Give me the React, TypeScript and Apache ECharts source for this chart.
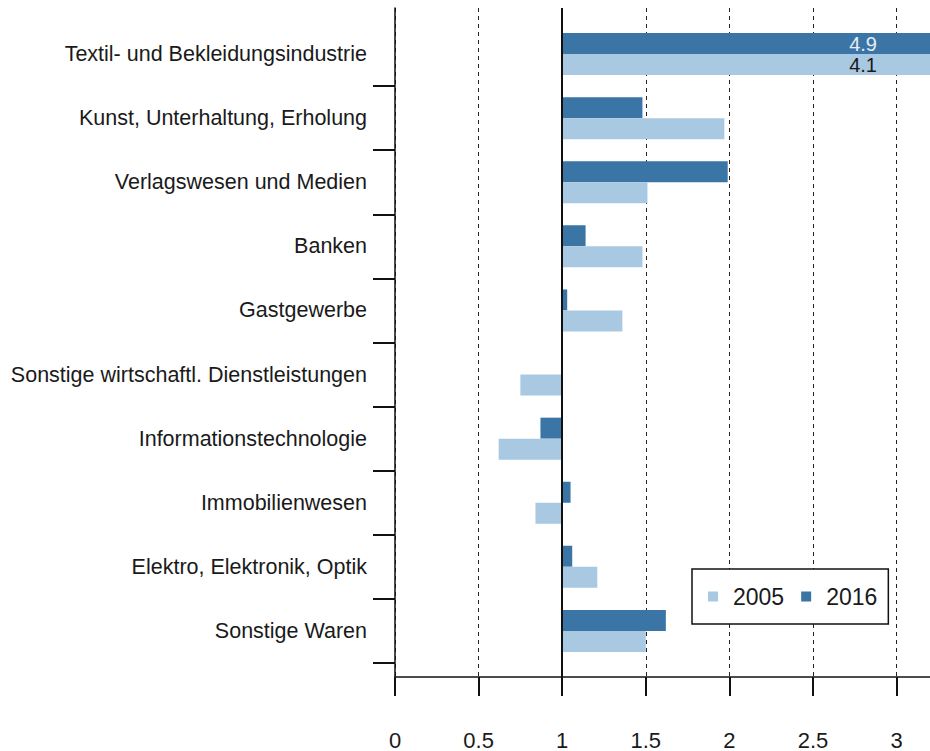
import React, { useEffect, useRef } from "react";
import * as echarts from "echarts";

const categories = [
  "Textil- und Bekleidungsindustrie",
  "Kunst, Unterhaltung, Erholung",
  "Verlagswesen und Medien",
  "Banken",
  "Gastgewerbe",
  "Sonstige wirtschaftl. Dienstleistungen",
  "Informationstechnologie",
  "Immobilienwesen",
  "Elektro, Elektronik, Optik",
  "Sonstige Waren",
];
const values2016 = [4.9, 1.48, 1.99, 1.14, 1.03, 1.0, 0.87, 1.05, 1.06, 1.62];
const values2005 = [4.1, 1.97, 1.51, 1.48, 1.36, 0.75, 0.62, 0.84, 1.21, 1.5];
const xTicks = [0, 0.5, 1, 1.5, 2, 2.5, 3];
const xMin = 0;
const xMax = 3.2;
const baseline = 1;
const labelled = ["Textil- und Bekleidungsindustrie"];

const FONT = "'Liberation Sans', Arial, sans-serif";
const DARK = "#3a75a6";
const LIGHT = "#a9c8e2";

export default function App() {
  const ref = useRef<HTMLDivElement>(null);
  useEffect(() => {
    if (!ref.current) return;
    const chart = echarts.init(ref.current, null, { renderer: "svg" });
    const shift = (v: number) => +(v - baseline).toFixed(6);
    const tickVals = xTicks.map(shift);
    const fmt = (v: number) => String(Math.round((v + baseline) * 10) / 10);

    const barLabel = (raw: number[], color: string) => ({
      show: true,
      position: "insideRight",
      distance: 53,
      color,
      fontFamily: FONT,
      fontSize: 20,
      lineHeight: 18,
      formatter: (p: any) => (labelled.includes(p.name) ? String(raw[p.dataIndex]) : ""),
    });

    chart.setOption({
      animation: false,
      textStyle: { fontFamily: FONT },
      grid: [
        { left: 395, right: 0, top: 22, height: 641, containLabel: false },
        { left: 395, right: 0, top: 8, height: 670, containLabel: false },
      ],
      xAxis: [
        {
          gridIndex: 0,
          type: "value",
          min: shift(xMin),
          max: shift(xMax),
          interval: 0.5,
          show: false,
        },
        {
          gridIndex: 1,
          type: "value",
          min: shift(xMin),
          max: shift(xMax),
          interval: 0.5,
          position: "bottom",
          axisLine: { show: true, onZero: false, lineStyle: { color: "#111", width: 1.5 } },
          axisTick: {
            show: true,
            length: 19,
            customValues: tickVals,
            lineStyle: { color: "#111", width: 2 },
          },
          axisLabel: {
            show: true,
            customValues: tickVals,
            formatter: fmt,
            margin: 52,
            color: "#1a1a1a",
            fontFamily: FONT,
            fontSize: 22,
          },
          splitLine: {
            show: true,
            lineStyle: { color: "#222", type: [4, 4], width: 1 },
          },
        },
      ],
      yAxis: [
        {
          gridIndex: 0,
          type: "category",
          data: categories,
          inverse: true,
          position: "left",
          axisLine: { show: false, onZero: false },
          axisTick: {
            show: true,
            length: 22,
            interval: (i: number) => i !== 0,
            lineStyle: { color: "#111", width: 2 },
          },
          axisLabel: {
            margin: 28,
            color: "#1a1a1a",
            fontFamily: FONT,
            fontSize: 21.5,
          },
          splitLine: { show: false },
        },
        {
          gridIndex: 1,
          type: "value",
          min: 0,
          max: 1,
          position: "left",
          axisLine: { show: true, onZero: false, lineStyle: { color: "#111", width: 1.5 } },
          axisTick: { show: false },
          axisLabel: { show: false },
          splitLine: { show: false },
        },
      ],
      legend: {
        left: 692,
        top: 569,
        orient: "horizontal",
        data: ["2005", "2016"],
        icon: "rect",
        itemWidth: 10,
        itemHeight: 10,
        itemGap: 17,
        padding: [16, 11, 16, 16],
        borderColor: "#111",
        borderWidth: 1.5,
        backgroundColor: "#fff",
        textStyle: { fontFamily: FONT, fontSize: 23, color: "#1a1a1a", padding: [0, 0, 0, 10] },
      },
      series: [
        {
          name: "2016",
          type: "bar",
          xAxisIndex: 0,
          yAxisIndex: 0,
          data: values2016.map(shift),
          barWidth: 21,
          barGap: "0%",
          itemStyle: { color: DARK },
          label: barLabel(values2016, "#e3edf6"),
          z: 3,
        },
        {
          name: "2005",
          type: "bar",
          xAxisIndex: 0,
          yAxisIndex: 0,
          data: values2005.map(shift),
          barWidth: 21,
          barGap: "0%",
          itemStyle: { color: LIGHT },
          label: barLabel(values2005, "#1a1a1a"),
          z: 3,
        },
        {
          name: "baseline",
          type: "line",
          xAxisIndex: 1,
          yAxisIndex: 1,
          data: [],
          markLine: {
            silent: true,
            symbol: "none",
            label: { show: false },
            lineStyle: { color: "#111", type: "solid", width: 2 },
            data: [{ xAxis: 0 }],
          },
          z: 4,
        },
      ],
    });
    return () => chart.dispose();
  }, []);
  return (
    <div
      ref={ref}
      style={{ position: "fixed", left: 0, top: 0, width: 930, height: 751, background: "#fff" }}
    />
  );
}
